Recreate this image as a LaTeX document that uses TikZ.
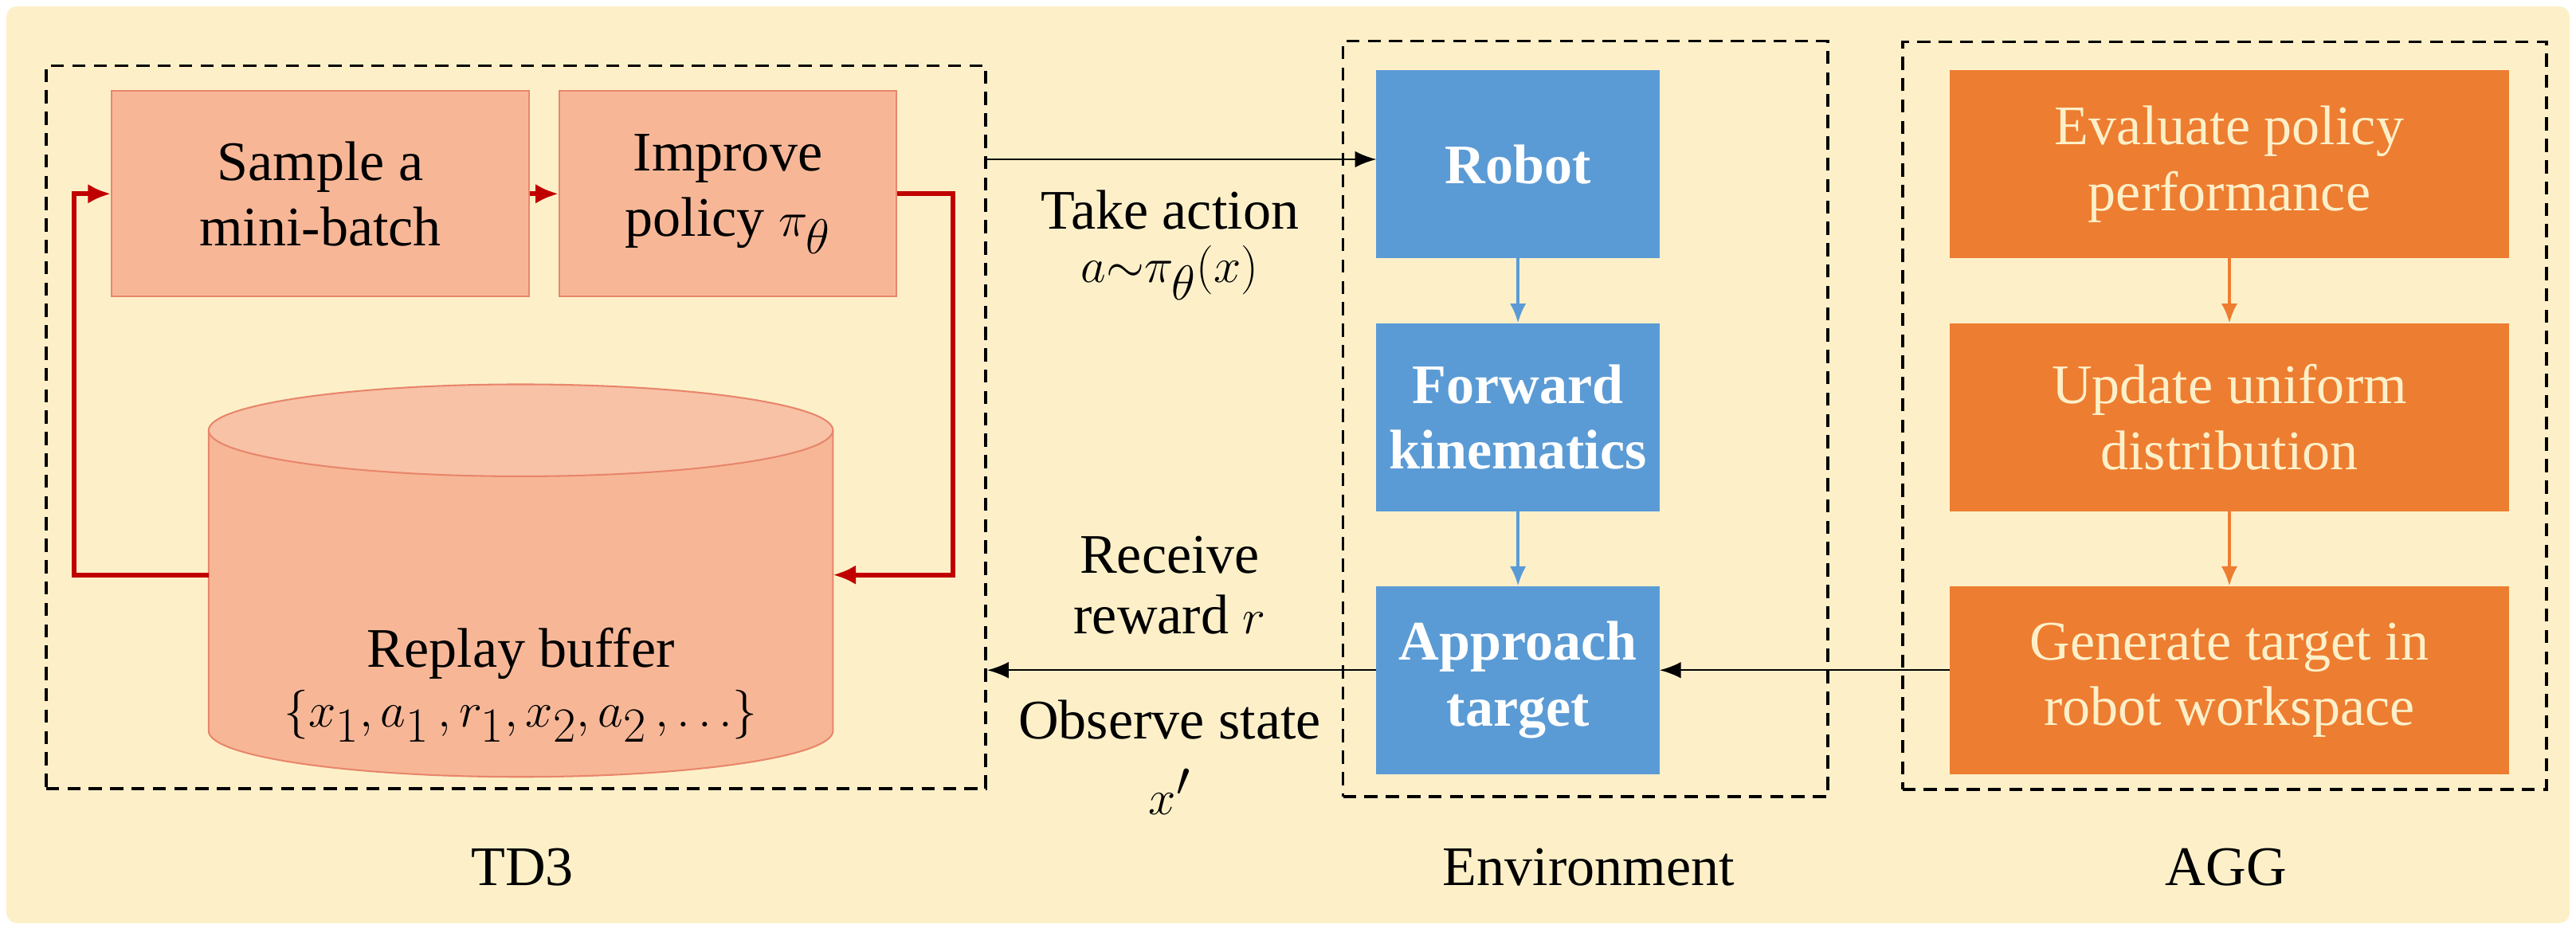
\documentclass[tikz,border=0pt]{standalone}
\usepackage{fontspec}
\setmainfont{Liberation Serif}
\usetikzlibrary{arrows.meta}
\definecolor{bg}{HTML}{FDF0C9}
\definecolor{sal}{HTML}{F7B797}
\definecolor{salb}{HTML}{E8866A}
\definecolor{blu}{HTML}{5B9BD5}
\definecolor{org}{HTML}{ED7D31}
\definecolor{dred}{HTML}{C00000}
\newcommand{\bm}[1]{\scalebox{1.2}{$#1$}}
\begin{document}
\begin{tikzpicture}[x=1pt,y=-1pt,font=\fontsize{34}{40}\selectfont,
 sbox/.style={draw=salb,fill=sal,line width=1pt,align=center,minimum height=125pt},
 bbox/.style={draw=blu,fill=blu,text=white,font=\fontsize{34}{40}\selectfont\bfseries,align=center,minimum width=172pt,minimum height=114pt},
 obox/.style={draw=org,fill=org,text=bg,align=center,minimum width=340pt,minimum height=114pt},
 grp/.style={draw=black,line width=1.8pt,dash pattern=on 8pt off 5pt},
 blk/.style={-{Latex[length=13pt,width=10pt]},line width=1.2pt},
 red/.style={-{Latex[length=14pt,width=12pt]},line width=3pt,dred},
 barr/.style={-{Latex[length=12pt,width=10pt]},line width=2pt,blu},
 oarr/.style={-{Latex[length=12pt,width=10pt]},line width=2pt,org}]
\useasboundingbox (0,0) rectangle (1568,572);
\fill[bg,rounded corners=6pt] (4,4) rectangle (1564,562);
\node[grp,minimum width=572pt,minimum height=440pt] (td3) at (314,260) {};
\node[grp,minimum width=295pt,minimum height=460pt] (env) at (965,255) {};
\node[grp,minimum width=392pt,minimum height=455pt] (agg) at (1354,253) {};
\node (s) [sbox,minimum width=254pt] at (195,118) {Sample a\\mini-batch};
\node (i) [sbox,minimum width=205pt] at (443,118) {Improve\\policy \bm{\pi_\theta}};
% cylinder
\draw[salb,fill=sal,line width=1pt] (127,262) -- (127,445) arc[start angle=180,end angle=0,x radius=190,y radius=28] -- (507,262);
\draw[salb,fill=sal!85!white,line width=1pt] (317,262) ellipse[x radius=190,y radius=28];
\coordinate (cl) at (127,350); \coordinate (cr) at (507,350);
\node (rb) at (317,398) {Replay buffer};
\node (rs) at (317,436) {\bm{\{x_1,a_1\,,r_1,x_2,a_2\,,\ldots\}}};
\node (r) [bbox] at (924,100) {Robot};
\node (f) [bbox] at (924,254) {Forward\\kinematics};
\node (a) [bbox] at (924,414) {Approach\\target};
\node (e) [obox] at (1357,100) {Evaluate policy\\performance};
\node (u) [obox] at (1357,254) {Update uniform\\distribution};
\node (g) [obox] at (1357,414) {Generate target in\\robot workspace};
\node (l1) at (318,528) {TD3};
\node (l2) at (967,528) {Environment};
\node (l3) at (1355,528) {AGG};
\draw[red] (s) -- (i);
\draw[red] (i.east) -- (580,118) |- (cr);
\draw[red] (cl) -- (45,350) |- (s.west);
\draw[barr] (r) -- (f);
\draw[barr] (f) -- (a);
\draw[oarr] (e) -- (u);
\draw[oarr] (u) -- (g);
\draw[blk] (td3.east |- 0,97) -- (r.west |- 0,97);
\draw[blk] (a.west |- 0,408) -- (td3.east |- 0,408);
\draw[blk] (g.west |- 0,408) -- (a.east |- 0,408);
\node (t1) at (712,128) {Take action};
\node (t2) at (712,166) {\bm{a{\sim}\pi_\theta(x)}};
\node (t3) at (712,338) {Receive};
\node (t4) at (712,374) {reward \bm{r}};
\node (t5) at (712,438) {Observe state};
\node (t6) at (712,482) {\bm{x'}};
\end{tikzpicture}
\end{document}
